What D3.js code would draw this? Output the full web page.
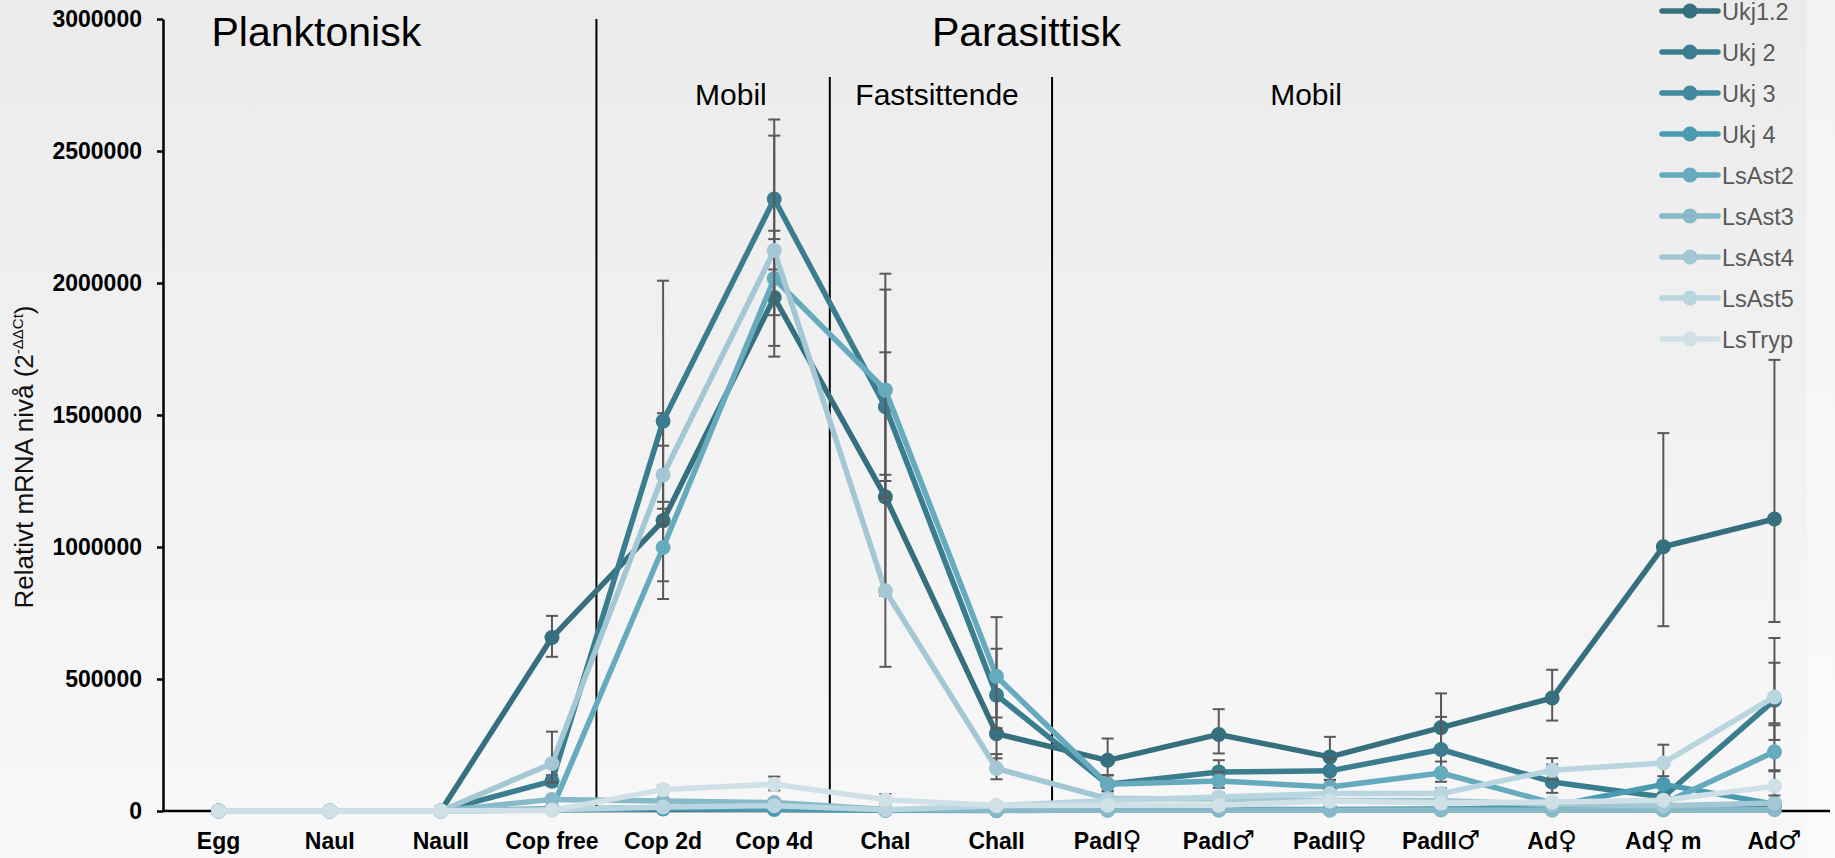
<!DOCTYPE html>
<html lang="no">
<head>
  <meta charset="UTF-8">
  <title>Relativt mRNA nivå</title>
  <script src="https://cdnjs.cloudflare.com/ajax/libs/d3/7.8.5/d3.min.js"></script>
  <style>
    html, body { margin: 0; padding: 0; background: #fafafa; overflow: hidden; }
    svg { display: block; font-family: "Liberation Sans", Arial, sans-serif; }
    .tick-y text { font-size: 23px; font-weight: bold; fill: #000; }
    .x-label { font-size: 23px; font-weight: bold; fill: #000; }
    .legend text { font-size: 23.5px; fill: #595959; }
  </style>
</head>
<body>
  <div id="chart"></div>

  <script>
    // categories (life stages)
    const categories = ["Egg", "NauI", "NauII", "Cop free", "Cop 2d", "Cop 4d", "ChaI", "ChaII",
                        "PadI♀", "PadI♂", "PadII♀", "PadII♂", "Ad♀", "Ad♀ m", "Ad♂"];
    const seriesNames = ["Ukj1.2", "Ukj 2", "Ukj 3", "Ukj 4", "LsAst2", "LsAst3", "LsAst4", "LsAst5", "LsTryp"];
    const yTicks = [0, 500000, 1000000, 1500000, 2000000, 2500000, 3000000];

    // mean relative expression per stage
    const ukj12  = [1, 20, 150, 657000, 1100000, 1945000, 1190000, 293000, 192000, 290000, 205000, 316000, 428000, 1001000, 1106000];
    const ukj2   = [1, 15, 120, 113000, 1477000, 2318000, 1531000, 439000, 101000, 148000, 152000, 233000, 110000, 53000, 420000];
    const ukj3   = [1, 5, 40, 8000, 12000, 10000, 4000, 3000, 5000, 6000, 6000, 8000, 6000, 5000, 20000];
    const ukj4   = [1, 5, 30, 5000, 8000, 6000, 3000, 2000, 4000, 5000, 5000, 6000, 18000, 101000, 26000];
    const lsAst2 = [1, 10, 80, 8000, 998000, 2017000, 1595000, 510000, 101000, 114000, 91000, 144000, 30000, 28000, 224000];
    const lsAst3 = [1, 8, 60, 44000, 38000, 32000, 6000, 3000, 3000, 3000, 3000, 4000, 3000, 4000, 5000];
    const lsAst4 = [1, 10, 70, 180000, 1273000, 2123000, 834000, 161000, 47000, 45000, 40000, 40000, 25000, 20000, 30000];
    const lsAst5 = [1, 8, 50, 5000, 15000, 20000, 5000, 20000, 40000, 53000, 66000, 66000, 154000, 182000, 432000];
    const lsTryp = [1, 10, 50, 2000, 81000, 101000, 43000, 21000, 22000, 22000, 38000, 30000, 34000, 41000, 94000];

    // error bar factors (upper = mean * f, lower = mean / f)
    const errUkj12  = [1.1, 1.1, 1.2, 1.125, 1.37, 1.13, 1.46, 1.47, 1.43, 1.33, 1.37, 1.41, 1.25, 1.43, 1.545];
    const errUkj2   = [1.1, 1.1, 1.2, 1.2, 1.36, 1.13, 1.29, 1.4, 1.35, 1.3, 1.3, 1.53, 1.6, 1.3, 1.56];
    const errUkj3   = [1.1, 1.1, 1.2, 1.3, 1.3, 1.3, 1.3, 1.3, 1.3, 1.3, 1.3, 1.3, 1.3, 1.3, 1.3];
    const errUkj4   = [1.1, 1.1, 1.2, 1.3, 1.3, 1.3, 1.3, 1.3, 1.3, 1.3, 1.3, 1.3, 1.3, 1.15, 1.3];
    const errLsAst2 = [1.1, 1.1, 1.2, 1.3, 1.147, 1.074, 1.276, 1.44, 1.35, 1.3, 1.3, 1.3, 1.3, 1.3, 1.45];
    const errLsAst3 = [1.1, 1.1, 1.2, 1.2, 1.2, 1.2, 1.2, 1.2, 1.2, 1.2, 1.2, 1.2, 1.2, 1.2, 1.2];
    const errLsAst4 = [1.1, 1.1, 1.2, 1.67, 1.087, 1.205, 1.527, 1.34, 1.3, 1.3, 1.3, 1.3, 1.3, 1.3, 1.3];
    const errLsAst5 = [1.1, 1.1, 1.2, 1.2, 1.2, 1.2, 1.2, 1.3, 1.3, 1.3, 1.3, 1.3, 1.3, 1.38, 1.3];
    const errLsTryp = [1.1, 1.1, 1.2, 1.2, 1.2, 1.29, 1.5, 1.3, 1.3, 1.3, 1.3, 1.3, 1.3, 1.3, 1.6];

    const seriesValues = [ukj12, ukj2, ukj3, ukj4, lsAst2, lsAst3, lsAst4, lsAst5, lsTryp];
    const seriesErr = [errUkj12, errUkj2, errUkj3, errUkj4, errLsAst2, errLsAst3, errLsAst4, errLsAst5, errLsTryp];
    const colors = ["#36707f", "#3a7d8f", "#418a9e", "#4a9bb2", "#66aabd", "#88b9c9", "#a3c7d3", "#b9d5df", "#cfe1e7"];

    // stage dividers (category index units) and their top values
    const dividerPos = [3.4, 5.5, 7.5];
    const dividerTop = [3000000, 2780000, 2780000];

    const W = 1835, H = 858;
    const margin = {top: 19, right: 5, bottom: 47, left: 163};

    const svg = d3.select("#chart").append("svg")
      .attr("width", W)
      .attr("height", H);

    // background gradients
    const defs = svg.append("defs");
    function vGrad(id, top, bottom) {
      const g = defs.append("linearGradient").attr("id", id)
        .attr("x1", 0).attr("y1", 0).attr("x2", 0).attr("y2", 1);
      g.append("stop").attr("offset", 0).attr("stop-color", top);
      g.append("stop").attr("offset", 1).attr("stop-color", bottom);
    }
    vGrad("bg-side", "#f3f3f3", "#fbfbfb");
    vGrad("bg-main", "#ebebeb", "#f8f8f8");
    svg.append("rect").attr("width", W).attr("height", H).attr("fill", "url(#bg-side)");
    svg.append("rect").attr("width", 1807).attr("height", H).attr("fill", "url(#bg-main)");

    // scales
    const x = d3.scaleBand()
      .domain(categories)
      .range([margin.left, W - margin.right])
      .padding(0);
    const cx = c => x(c) + x.bandwidth() / 2;
    const xAt = i => margin.left + (i + 0.5) * x.bandwidth();
    const y = d3.scaleLinear()
      .domain([0, 3000000])
      .range([H - margin.bottom, margin.top]);

    // dividers
    svg.append("g").selectAll("line")
      .data(dividerPos)
      .enter().append("line")
      .attr("x1", d => xAt(d)).attr("x2", d => xAt(d))
      .attr("y1", (d, i) => y(dividerTop[i]))
      .attr("y2", y(0))
      .attr("stroke", "#000")
      .attr("stroke-width", 2);

    // section labels
    const sections = [
      {text: "Planktonisk", pos: 0.88, base: 46, size: 41},
      {text: "Parasittisk", pos: 7.27, base: 46, size: 41},
      {text: "Mobil", pos: 4.61, base: 105, size: 30},
      {text: "Fastsittende", pos: 6.465, base: 105, size: 30},
      {text: "Mobil", pos: 9.785, base: 105, size: 30}
    ];
    svg.append("g").selectAll("text")
      .data(sections)
      .enter().append("text")
      .attr("x", d => xAt(d.pos))
      .attr("y", d => d.base)
      .attr("text-anchor", "middle")
      .style("font-size", d => d.size + "px")
      .attr("fill", "#000")
      .text(d => d.text);

    // y axis
    const yAxis = svg.append("g")
      .attr("class", "tick-y")
      .attr("transform", `translate(${margin.left},0)`)
      .call(d3.axisLeft(y).tickValues(yTicks).tickSize(6).tickSizeOuter(0).tickPadding(15).tickFormat(d3.format("d")));
    yAxis.select(".domain").attr("stroke", "#000").attr("stroke-width", 2.5);
    yAxis.selectAll(".tick line").attr("stroke", "#000").attr("stroke-width", 2.5);
    yAxis.selectAll(".tick text").attr("font-family", null).attr("font-size", null);

    // x axis line
    svg.append("line")
      .attr("x1", margin.left).attr("x2", W - margin.right)
      .attr("y1", y(0)).attr("y2", y(0))
      .attr("stroke", "#000").attr("stroke-width", 2.5);

    // x labels (gender symbols drawn lighter)
    const xl = svg.append("g").selectAll("text")
      .data(categories)
      .enter().append("text")
      .attr("class", "x-label")
      .attr("x", d => cx(d))
      .attr("y", 849)
      .attr("text-anchor", "middle");
    xl.each(function(d) {
      const t = d3.select(this);
      d.split(/([♀♂])/).filter(s => s.length).forEach(part => {
        const sp = t.append("tspan").text(part);
        if (part === "♀" || part === "♂") {
          sp.style("font-weight", "normal").style("font-family", "'DejaVu Sans'").style("font-size", "26px");
        }
      });
    });

    // y title
    const yt = svg.append("text")
      .attr("transform", "translate(33,457) rotate(-90)")
      .attr("text-anchor", "middle")
      .style("font-size", "26px")
      .attr("fill", "#111");
    yt.append("tspan").text("Relativt mRNA nivå (2");
    yt.append("tspan").attr("dy", -10).style("font-size", "15px").text("-ΔΔCt");
    yt.append("tspan").attr("dy", 10).text(")");

    // series
    const line = d3.line()
      .x((d, i) => cx(categories[i]))
      .y(d => y(d));

    const plot = svg.append("g");
    seriesValues.forEach((vals, s) => {
      const g = plot.append("g");
      g.append("path")
        .datum(vals)
        .attr("fill", "none")
        .attr("stroke", colors[s])
        .attr("stroke-width", 5.5)
        .attr("stroke-linejoin", "round")
        .attr("d", line);

      const eb = g.append("g")
        .attr("stroke", "#595959")
        .attr("stroke-width", 2);
      vals.forEach((v, i) => {
        const f = seriesErr[s][i];
        const px = cx(categories[i]);
        const hi = y(v * f), lo = y(v / f);
        eb.append("line").attr("x1", px).attr("x2", px).attr("y1", hi).attr("y2", lo);
        eb.append("line").attr("x1", px - 6).attr("x2", px + 6).attr("y1", hi).attr("y2", hi);
        eb.append("line").attr("x1", px - 6).attr("x2", px + 6).attr("y1", lo).attr("y2", lo);
      });

      g.selectAll("circle")
        .data(vals)
        .enter().append("circle")
        .attr("cx", (d, i) => cx(categories[i]))
        .attr("cy", d => y(d))
        .attr("r", 7.5)
        .attr("fill", colors[s]);
    });

    // legend
    const legend = svg.append("g").attr("class", "legend");
    seriesNames.forEach((name, s) => {
      const ly = 11 + s * 41;
      const item = legend.append("g").attr("transform", `translate(1662,${ly})`);
      item.append("line").attr("x1", 0).attr("x2", 56).attr("y1", 0).attr("y2", 0)
        .attr("stroke", colors[s]).attr("stroke-width", 5.5).attr("stroke-linecap", "round");
      item.append("circle").attr("cx", 28).attr("cy", 0).attr("r", 7.5).attr("fill", colors[s]);
      item.append("text").attr("x", 60).attr("y", 8.5).text(name);
    });
  </script>
</body>
</html>
